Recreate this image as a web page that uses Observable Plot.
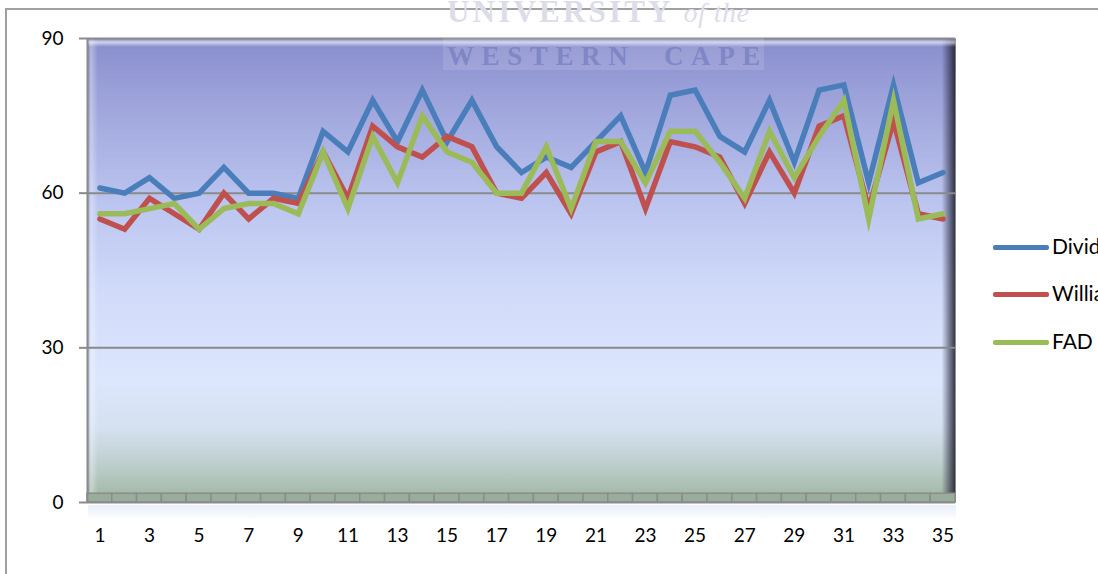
<!DOCTYPE html>
<html>
<head>
<meta charset="utf-8">
<script src="https://cdn.jsdelivr.net/npm/d3@7"></script>
<script src="https://cdn.jsdelivr.net/npm/@observablehq/plot@0.6"></script>
<style>
  html, body { margin: 0; padding: 0; background: #fff; overflow: hidden; }
  #wrap { position: relative; width: 1098px; height: 574px; overflow: hidden; font-family: Lato, "Open Sans", sans-serif; }
  #border { position: absolute; left: 5px; top: 8px; width: 1200px; height: 700px; border: 2px solid #a0a0a0; box-sizing: border-box; }
  #chart { position: absolute; left: 0; top: 0; }
  #mark { position: absolute; left: 443px; top: 0; width: 321px; height: 70px; font-family: "Liberation Serif", "DejaVu Serif", serif; font-weight: bold; }
  #mark .band { position: absolute; left: 0; top: 38px; width: 100%; height: 32px; background: rgba(255,255,255,0.12); }
  #mark .l1 { position: absolute; left: 4px; top: -4px; font-size: 31px; letter-spacing: 3.2px; color: #dcdde9; white-space: nowrap; line-height: 32px; }
  #mark .l1 i { font-weight: normal; font-size: 28px; letter-spacing: 0.5px; }
  #mark .l2 { position: absolute; left: 4px; top: 42px; font-size: 27px; letter-spacing: 7.6px; color: rgba(105,112,185,0.55); white-space: nowrap; line-height: 28px; }
  #legend { position: absolute; left: 993px; top: 0; }
  #legend .item { position: absolute; left: 0; white-space: nowrap; font-size: 21px; color: #000; line-height: 24px; }
  #legend .sw { display: inline-block; width: 56px; height: 5px; border-radius: 2px; vertical-align: middle; margin-right: 3px; position: relative; top: -1px; }
  #shadow { position: absolute; left: 88px; top: 505px; width: 868px; height: 13px; background: linear-gradient(#e9eef9, rgba(240,244,252,0.3)); }
</style>
</head>
<body>
<div id="wrap">
  <div id="border"></div>
  <div id="shadow"></div>
  <div id="chart"></div>
  <div id="mark">
    <div class="band"></div>
    <div class="l1">UNIVERSITY <i>of the</i></div>
    <div class="l2">WESTERN&nbsp; CAPE</div>
  </div>
  <div id="legend"></div>
</div>
<script>
// Observation number along the horizontal axis
const obs = d3.range(1, 36);
const xTickLabels = [1, 3, 5, 7, 9, 11, 13, 15, 17, 19, 21, 23, 25, 27, 29, 31, 33, 35];
const yTickLabels = [0, 30, 60, 90];

// Series names and values per observation
const seriesNames = ["Dividend", "Williams", "FAD"];
const dividend = [61, 60, 63, 59, 60, 65, 60, 60, 59, 72, 68, 78, 70, 80, 70, 78, 69, 64, 67, 65, 70, 75, 64, 79, 80, 71, 68, 78, 66, 80, 81, 62, 81, 62, 64];
const williams = [55, 53, 59, 56, 53, 60, 55, 59, 58, 68, 59, 73, 69, 67, 71, 69, 60, 59, 64, 56, 68, 70, 57, 70, 69, 67, 58, 68, 60, 73, 75, 57, 74, 56, 55];
const fad      = [56, 56, 57, 58, 53, 57, 58, 58, 56, 68, 57, 71, 62, 75, 68, 66, 60, 60, 69, 57, 70, 70, 62, 72, 72, 66, 59, 72, 63, 71, 78, 55, 78, 55, 56];
const seriesColors = ["#4a7ebb", "#c0504d", "#9bbb59"];

const seriesValues = [dividend, williams, fad];
const rows = seriesNames.flatMap((name, i) =>
  obs.map((o, j) => ({ name, x: o, y: seriesValues[i][j] }))
);

const chart = Plot.plot({
  width: 1098,
  height: 574,
  marginLeft: 87,
  marginRight: 143,
  marginTop: 38,
  marginBottom: 72,
  style: { fontFamily: "Lato, 'Open Sans', sans-serif", fontSize: "19px", color: "#000", background: "transparent" },
  x: { domain: [0.5, 35.5] },
  y: { domain: [0, 90] },
  color: { domain: seriesNames, range: seriesColors },
  marks: [
    // back wall with its gradient and bevelled edges
    Plot.frame({ fill: "url(#wallFill)", stroke: null }),
    Plot.frame({ fill: "url(#wallSides)", stroke: null }),
    Plot.frame({ fill: "url(#wallTop)", stroke: null }),
    // floor cells, one per observation
    Plot.rect(obs, { x1: d => d - 0.5, x2: d => d + 0.5, y1: 0, y2: 1.7, fill: "#98ad9a", stroke: "#8c8c8c", strokeWidth: 1.5 }),
    Plot.ruleY([30, 60, 90], { x1: 0.5, x2: 35.5, stroke: "#8a8a8a", strokeWidth: 2 }),
    Plot.ruleY([0], { x1: 0.5, x2: 35.5, stroke: "#8a8a8a", strokeWidth: 2 }),
    Plot.ruleX([0.5], { y1: 0, y2: 90, stroke: "#8a8a8a", strokeWidth: 2 }),
    Plot.line(rows, { x: "x", y: "y", z: "name", stroke: "name", strokeWidth: 5.5, strokeLinejoin: "miter", strokeMiterlimit: 10 }),
    Plot.axisY({ ticks: yTickLabels, tickSize: 8, tickPadding: 16, stroke: "#8a8a8a", strokeWidth: 2, label: null }),
    Plot.axisX({ ticks: xTickLabels, tickSize: 0, tickPadding: 26, label: null, tickFormat: d => String(d) })
  ]
});

// gradients referenced by the wall frames
const defs = d3.select(chart).insert("defs", ":first-child");
const wallGrad = defs.append("linearGradient").attr("id", "wallFill").attr("x1", 0).attr("y1", 0).attr("x2", 0).attr("y2", 1);
[[0, "#888dcd"], [0.13, "#9da3da"], [0.35, "#bbc4ef"], [0.56, "#d2dcfa"], [0.74, "#dce6fc"], [0.84, "#d5e1f0"], [0.93, "#b9cbc6"], [1, "#9db39f"]]
  .forEach(([o, c]) => wallGrad.append("stop").attr("offset", o).attr("stop-color", c));
const sideGrad = defs.append("linearGradient").attr("id", "wallSides").attr("x1", 0).attr("y1", 0).attr("x2", 1).attr("y2", 0);
[[0, "rgba(90,95,150,0.45)"], [0.004, "rgba(255,255,255,0.35)"], [0.012, "rgba(255,255,255,0)"], [0.984, "rgba(40,40,70,0)"], [0.993, "rgba(40,40,60,0.55)"], [1, "rgba(30,30,40,0.9)"]]
  .forEach(([o, c]) => sideGrad.append("stop").attr("offset", o).attr("stop-color", c));
const topGrad = defs.append("linearGradient").attr("id", "wallTop").attr("x1", 0).attr("y1", 0).attr("x2", 0).attr("y2", 1);
[[0, "rgba(120,125,190,0.6)"], [0.008, "rgba(255,255,255,0.6)"], [0.018, "rgba(255,255,255,0)"], [1, "rgba(255,255,255,0)"]]
  .forEach(([o, c]) => topGrad.append("stop").attr("offset", o).attr("stop-color", c));

document.getElementById("chart").appendChild(chart);

// legend to the right of the plot
const legend = d3.select("#legend");
const legendY = [234, 281, 329];
seriesNames.forEach((name, i) => {
  const item = legend.append("div").attr("class", "item").style("top", legendY[i] + "px");
  item.append("span").attr("class", "sw").style("background", seriesColors[i]);
  item.append("span").text(name);
});
</script>
</body>
</html>
